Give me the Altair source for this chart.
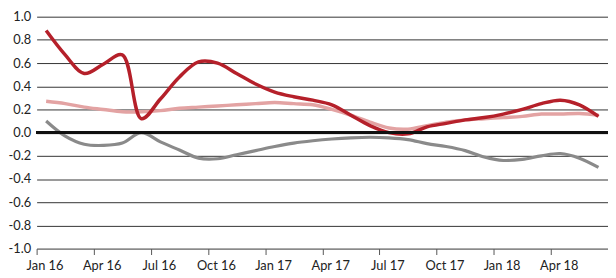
import altair as alt
import pandas as pd

# month index (0 = Jan 16), data points at mid-month
months = list(range(30))
red = [0.88, 0.67, 0.51, 0.59, 0.67, 0.12, 0.29, 0.48, 0.61, 0.60, 0.51, 0.42,
       0.35, 0.31, 0.28, 0.24, 0.15, 0.06, 0.00, -0.01, 0.05, 0.08, 0.11, 0.13,
       0.16, 0.20, 0.25, 0.28, 0.24, 0.14]
pink = [0.27, 0.25, 0.22, 0.20, 0.18, 0.18, 0.19, 0.21, 0.22, 0.23, 0.24, 0.25,
        0.26, 0.25, 0.24, 0.20, 0.15, 0.09, 0.04, 0.03, 0.06, 0.09, 0.11, 0.12,
        0.13, 0.14, 0.16, 0.16, 0.165, 0.15]
grey = [0.10, -0.03, -0.10, -0.11, -0.09, 0.00, -0.08, -0.15, -0.22, -0.225, -0.19, -0.155,
        -0.12, -0.09, -0.07, -0.055, -0.045, -0.04, -0.045, -0.06, -0.095, -0.12, -0.155, -0.21,
        -0.24, -0.23, -0.20, -0.18, -0.22, -0.30]
tick_labels = ["Jan 16", "Apr 16", "Jul 16", "Oct 16", "Jan 17", "Apr 17",
               "Jul 17", "Oct 17", "Jan 18", "Apr 18"]
y_ticks = [-1.0, -0.8, -0.6, -0.4, -0.2, 0.0, 0.2, 0.4, 0.6, 0.8, 1.0]
series_names = ["Grey", "Pink", "Red"]
series_colors = ["#8a8a8a", "#e3a3a3", "#b5202a"]

rows = []
for name, vals in zip(series_names, [grey, pink, red]):
    for m, v in zip(months, vals):
        rows.append({"series": name, "t": m + 0.5, "v": v})
df = pd.DataFrame(rows)

FONT = "Lato"
label_expr = "[" + ",".join("'%s'" % s for s in tick_labels) + "][round(datum.value/3)]"

x = alt.X("t:Q", scale=alt.Scale(domain=[0, 30], nice=False, zero=False),
          axis=alt.Axis(values=[i * 3 for i in range(len(tick_labels))], tickCount=20,
                        labelExpr=label_expr,
                        title=None, grid=False, domain=False, ticks=True, tickSize=6,
                        tickColor="#555", labelPadding=5, labelOffset=8, labelFlush=False,
                        labelOverlap=False, labelFont=FONT,
                        labelFontSize=13, labelColor="#222"))
y = alt.Y("v:Q", scale=alt.Scale(domain=[-1, 1], nice=False),
          axis=alt.Axis(values=y_ticks, tickCount=len(y_ticks) + 2,
                        labelExpr="replace(format(datum.value, '.1f'), '\u2212', '-')",
                        title=None, grid=True, gridColor="#333", gridWidth=1,
                        domain=False, ticks=False, labelPadding=6, labelFlush=False,
                        labelOverlap=False, labelFont=FONT,
                        labelFontSize=13, labelColor="#222"))

layers = []
for name in series_names:
    layers.append(alt.Chart(df[df.series == name]).mark_line(
        interpolate="catmull-rom", strokeWidth=3.5 if name != "Grey" else 3.2,
        color=series_colors[series_names.index(name)]).encode(x=x, y=y))

zero = alt.Chart(df).mark_rule(color="#111", strokeWidth=2.5).encode(y=alt.datum(0))

chart = alt.layer(*layers, zero).properties(
    width=579, height=235,
    autosize=alt.AutoSizeParams(type="none"),
    padding={"left": 29, "top": 7, "right": 0, "bottom": 28},
).configure_view(stroke=None)

chart.save("out.html", embed_options={"renderer": "svg", "actions": False})
